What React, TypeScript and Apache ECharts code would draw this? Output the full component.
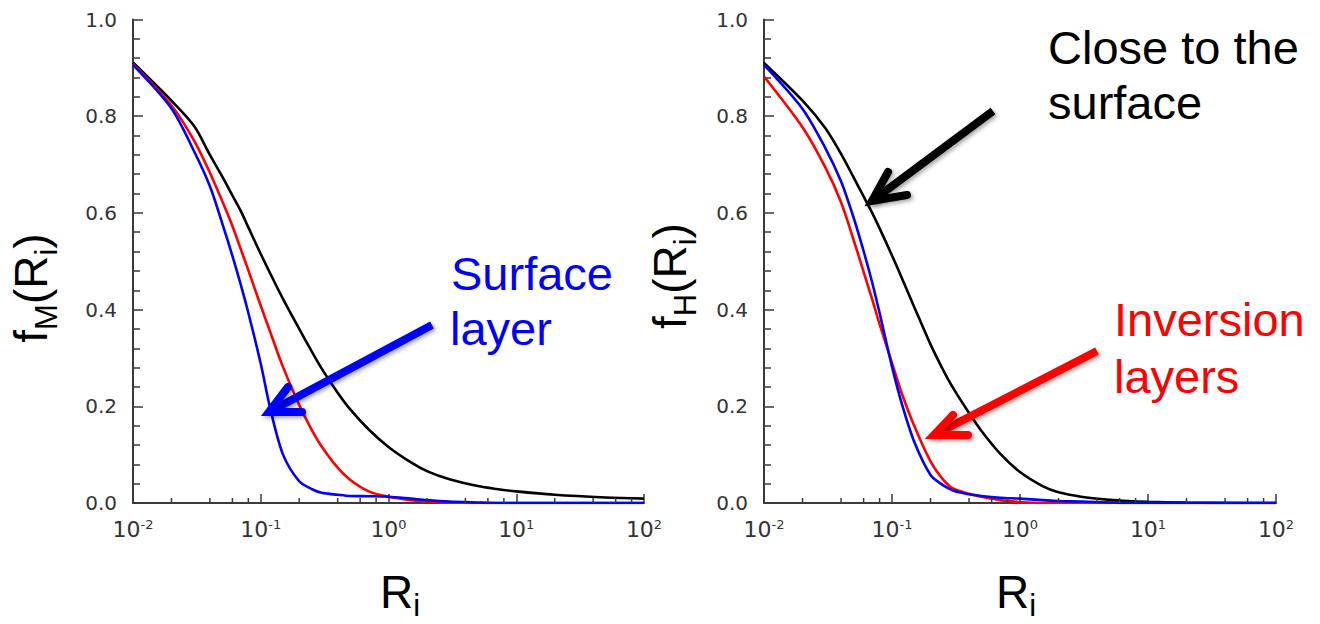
import React, { useEffect, useRef } from "react";
import * as echarts from "echarts";

// Richardson number samples (log axis)
const riValues = [0.01, 0.02, 0.03, 0.04, 0.05, 0.06, 0.07, 0.08, 0.1, 0.12, 0.15, 0.2, 0.25, 0.3, 0.4, 0.5, 0.7, 1, 1.5, 2, 3, 5, 7, 10, 20, 50, 100];

// f_M(Ri) — left panel
const fmClose = [0.911, 0.832, 0.78, 0.72, 0.675, 0.636, 0.603, 0.57, 0.515, 0.472, 0.421, 0.36, 0.314, 0.278, 0.228, 0.194, 0.152, 0.116, 0.084, 0.066, 0.049, 0.035, 0.029, 0.024, 0.017, 0.0115, 0.009];
const fmInversion = [0.908, 0.822, 0.75, 0.683, 0.624, 0.573, 0.524, 0.481, 0.408, 0.35, 0.28, 0.203, 0.152, 0.117, 0.073, 0.048, 0.024, 0.013, 0.006, 0.003, 0.001, 0, 0, 0, 0, 0, 0];
const fmSurface = [0.906, 0.816, 0.728, 0.655, 0.578, 0.511, 0.45, 0.393, 0.288, 0.19, 0.099, 0.045, 0.029, 0.021, 0.017, 0.0145, 0.014, 0.013, 0.009, 0.006, 0.003, 0.001, 0, 0, 0, 0, 0];

// f_H(Ri) — right panel
const fhClose = [0.91, 0.832, 0.776, 0.722, 0.674, 0.634, 0.6, 0.568, 0.512, 0.464, 0.404, 0.328, 0.276, 0.238, 0.186, 0.149, 0.102, 0.064, 0.035, 0.022, 0.013, 0.0065, 0.004, 0.0025, 0.001, 0, 0];
const fhInversion = [0.882, 0.777, 0.695, 0.622, 0.545, 0.478, 0.421, 0.37, 0.29, 0.225, 0.158, 0.086, 0.049, 0.03, 0.019, 0.013, 0.006, 0.002, 0, 0, 0, 0, 0, 0, 0, 0, 0];
const fhSurface = [0.906, 0.815, 0.735, 0.665, 0.591, 0.521, 0.456, 0.393, 0.282, 0.203, 0.125, 0.058, 0.037, 0.026, 0.018, 0.0145, 0.011, 0.009, 0.006, 0.004, 0.003, 0.001, 0, 0, 0, 0, 0];

// minor ticks of the log x axis (2,4,6,8 x decade)
const minorXTicks = [0.02, 0.04, 0.06, 0.08, 0.2, 0.4, 0.6, 0.8, 2, 4, 6, 8, 20, 40, 60, 80];

const AXIS_COLOR = "#3a3a3a";
const LABEL_COLOR = "#333";
const TICK_FONT = "DejaVu Sans";
const BIG_FONT = '"Liberation Sans", Arial, Helvetica, sans-serif';

function pairs(ys: number[]) {
  return riValues.map((x, i) => [x, ys[i]]);
}

function makeX(gridIndex: number) {
  return {
    type: "log",
    logBase: 10,
    gridIndex,
    min: 0.01,
    max: 100,
    axisLine: { show: true, onZero: false, lineStyle: { color: AXIS_COLOR, width: 2 } },
    axisTick: { show: true, inside: true, length: 9, lineStyle: { color: AXIS_COLOR, width: 1.5 } },
    minorTick: { show: false },
    splitLine: { show: false },
    axisLabel: {
      margin: 15,
      color: LABEL_COLOR,
      fontFamily: TICK_FONT,
      fontSize: 22,
      formatter: (v: number) => "10{sup|" + Math.round(Math.log10(v)) + "}",
      rich: {
        sup: { fontFamily: TICK_FONT, fontSize: 13, color: LABEL_COLOR, padding: [0, 0, 9, 0] },
      },
    },
  };
}

function makeY(gridIndex: number) {
  return {
    type: "value",
    gridIndex,
    min: 0,
    max: 1,
    interval: 0.2,
    axisLine: { show: true, lineStyle: { color: AXIS_COLOR, width: 2 } },
    axisTick: { show: true, inside: true, length: 10, lineStyle: { color: AXIS_COLOR, width: 1.5 } },
    minorTick: { show: true, splitNumber: 5, length: 7, lineStyle: { color: AXIS_COLOR, width: 1.5 } },
    splitLine: { show: false },
    axisLabel: {
      margin: 16,
      color: LABEL_COLOR,
      fontFamily: TICK_FONT,
      fontSize: 20,
      formatter: (v: number) => v.toFixed(1),
    },
  };
}

function curve(name: string, ys: number[], color: string, idx: number) {
  return {
    type: "line",
    name,
    xAxisIndex: idx,
    yAxisIndex: idx,
    data: pairs(ys),
    showSymbol: false,
    symbol: "none",
    smooth: 0.3,
    lineStyle: { color, width: 2.6 },
    z: 3,
  };
}

function minorTicks(idx: number) {
  return {
    type: "custom",
    xAxisIndex: idx,
    yAxisIndex: idx,
    silent: true,
    clip: false,
    z: 5,
    data: minorXTicks.map((x) => [x, 0]),
    renderItem: (params: any, api: any) => {
      const p = api.coord([api.value(0), 0]);
      return {
        type: "line",
        shape: { x1: p[0], y1: p[1], x2: p[0], y2: p[1] - 5 },
        style: { stroke: AXIS_COLOR, lineWidth: 1.5 },
      };
    },
  };
}

const shadow = { shadowColor: "rgba(0,0,0,0.35)", shadowBlur: 4, shadowOffsetX: 2, shadowOffsetY: 2 };

function arrow(color: string, tail: number[], tip: number[], arm1: number[], arm2: number[]) {
  return [
    {
      type: "line",
      shape: { x1: tail[0], y1: tail[1], x2: tip[0], y2: tip[1] },
      style: { stroke: color, lineWidth: 8, lineCap: "butt", ...shadow },
      z: 10,
    },
    {
      type: "polyline",
      shape: { points: [arm1, tip, arm2] },
      style: { stroke: color, fill: null, lineWidth: 8, lineJoin: "miter", lineCap: "round", ...shadow },
      z: 10,
    },
  ];
}

function bigText(text: string, x: number, y: number, color: string) {
  return {
    type: "text",
    x,
    y,
    z: 10,
    style: { text, fill: color, font: "47px " + BIG_FONT, align: "left", verticalAlign: "middle" },
  };
}

function titleText(text: string, x: number, y: number, rotate: boolean, align: string) {
  return {
    type: "text",
    x,
    y,
    rotation: rotate ? Math.PI / 2 : 0,
    z: 10,
    style: {
      text,
      fill: "#000",
      fontFamily: BIG_FONT,
      fontSize: 46,
      align,
      verticalAlign: "middle",
      rich: {
        sub: { fontFamily: BIG_FONT, fontSize: 31, fill: "#000", padding: [rotate ? 30 : 26, 0, 0, 0] },
      },
    },
  };
}

export default function App() {
  const ref = useRef<HTMLDivElement>(null);
  useEffect(() => {
    const chart = echarts.init(ref.current!, null, { renderer: "svg" });
    const option: any = {
      animation: false,
      backgroundColor: "#fff",
      grid: [
        { left: 133, top: 19.5, width: 511, height: 483.5 },
        { left: 764, top: 19.5, width: 512, height: 483.5 },
      ],
      xAxis: [makeX(0), makeX(1)],
      yAxis: [makeY(0), makeY(1)],
      series: [
        curve("Close to the surface", fmClose, "#000000", 0),
        curve("Inversion layers", fmInversion, "#ff0000", 0),
        curve("Surface layer", fmSurface, "#0000ff", 0),
        curve("Close to the surface", fhClose, "#000000", 1),
        curve("Inversion layers", fhInversion, "#ff0000", 1),
        curve("Surface layer", fhSurface, "#0000ff", 1),
        minorTicks(0),
        minorTicks(1),
      ],
      graphic: [
        ...arrow("#0000ff", [432, 325], [269, 412], [288, 387], [302, 412]),
        ...arrow("#000000", [993, 111], [872, 201], [888, 172], [907, 195]),
        ...arrow("#ff0000", [1097, 351], [934, 435], [953, 415], [968, 435]),
        bigText("Surface", 451, 273, "#0000ff"),
        bigText("layer", 450, 328, "#0000ff"),
        bigText("Close to the", 1048, 47, "#000000"),
        bigText("surface", 1048, 102, "#000000"),
        bigText("Inversion", 1114, 319, "#ff0000"),
        bigText("layers", 1114, 376, "#ff0000"),
        titleText("f{sub|M}(R{sub|i})", 31, 288, true, "center"),
        titleText("f{sub|H}(R{sub|i})", 670, 276, true, "center"),
        titleText("R{sub|i}", 380, 592, false, "left"),
        titleText("R{sub|i}", 996, 592, false, "left"),
      ],
    };
    chart.setOption(option);
    return () => chart.dispose();
  }, []);
  return (
    <div
      ref={ref}
      style={{ position: "absolute", left: 0, top: 0, width: 1320, height: 624, background: "#fff" }}
    />
  );
}
